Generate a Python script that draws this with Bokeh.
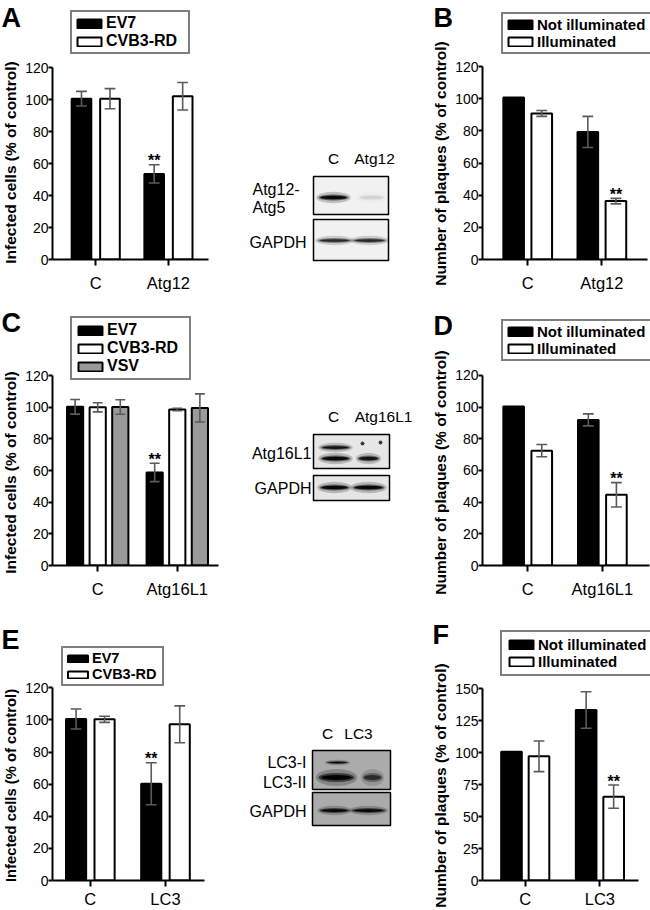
import math
from bokeh.plotting import figure
from bokeh.models import Range1d, FixedTicker, Legend, LegendItem, Label
from bokeh.layouts import row, column
from bokeh.embed import file_html
from bokeh.resources import INLINE
from bokeh.core.properties import value

FONT = "Liberation Sans"

# ------------------------------------------------------------------ data
a_categories = ["C", "Atg12"]
a_ev7 = [100.5, 53.5]
a_ev7_err = [4.6, 5.7]
a_cvb3 = [100.5, 102.0]
a_cvb3_err = [6.3, 8.6]

b_categories = ["C", "Atg12"]
b_not_illuminated = [100.8, 79.3]
b_not_illuminated_err = [0.0, 9.7]
b_illuminated = [90.8, 36.3]
b_illuminated_err = [1.8, 1.7]

c_categories = ["C", "Atg16L1"]
c_ev7 = [100.3, 58.8]
c_ev7_err = [4.6, 5.8]
c_cvb3 = [100.0, 98.6]
c_cvb3_err = [2.9, 0.8]
c_vsv = [100.2, 99.6]
c_vsv_err = [4.6, 8.9]

d_categories = ["C", "Atg16L1"]
d_not_illuminated = [100.3, 91.9]
d_not_illuminated_err = [0.0, 3.8]
d_illuminated = [72.5, 44.6]
d_illuminated_err = [3.9, 7.7]

e_categories = ["C", "LC3"]
e_ev7 = [100.6, 60.3]
e_ev7_err = [6.2, 13.1]
e_cvb3 = [100.4, 97.3]
e_cvb3_err = [1.9, 11.5]

f_categories = ["C", "LC3"]
f_not_illuminated = [100.8, 133.5]
f_not_illuminated_err = [0.0, 14.3]
f_illuminated = [97.2, 65.6]
f_illuminated_err = [12.0, 9.1]

y_ticks_120 = [0, 20, 40, 60, 80, 100, 120]
y_ticks_150 = [0, 25, 50, 75, 100, 125, 150]

infected_title = "Infected cells (% of control)"
plaques_title = "Number of plaques (% of control)"

# western blots: lane names, band intensities (0..1) per lane
blot_a_lanes = ["C", "Atg12"]
blot_a_atg12_atg5 = [0.95, 0.07]
blot_a_gapdh = [0.7, 0.7]

blot_c_lanes = ["C", "Atg16L1"]
blot_c_atg16l1_upper = [0.85, 0.0]
blot_c_atg16l1_lower = [0.95, 0.85]
blot_c_gapdh = [0.95, 0.95]

blot_e_lanes = ["C", "LC3"]
blot_e_lc3_i = [0.9, 0.0]
blot_e_lc3_ii = [1.0, 0.6]
blot_e_gapdh = [0.95, 0.95]

BLACK = "#000000"
WHITE = "#ffffff"
GREY = "#9a9a9a"
ERR = "#5a5a5a"


# ------------------------------------------------------------------ helpers
def pixel_figure(box):
    """Figure whose data units are page pixels; y is stored as -page_y."""
    ox, oy, W, H = box
    p = figure(width=W, height=H, x_range=Range1d(ox, ox + W), y_range=Range1d(-(oy + H), -oy),
               output_backend="svg", toolbar_location=None, frame_align=False,
               min_border_left=0, min_border_right=0, min_border_top=0, min_border_bottom=0,
               x_axis_location=None, y_axis_location=None)
    p.grid.visible = False
    p.outline_line_color = None
    return p


def side_panel(box, letter, letter_pos, title, title_pos, title_size):
    p = pixel_figure(box)
    p.add_layout(Label(x=letter_pos[0], y=-letter_pos[1], text=letter, text_font=FONT,
                       text_font_size="27px", text_font_style="bold", text_align="left",
                       text_baseline="alphabetic", text_color=BLACK))
    p.add_layout(Label(x=title_pos[0], y=-title_pos[1], text=title, text_font=FONT,
                       text_font_size=title_size, text_font_style="bold", text_align="center",
                       text_baseline="middle", angle=math.pi / 2, text_color=BLACK))
    return p


def bar_panel(geo, categories, series, stars, y_ticks, lg):
    ox, oy, W, H = geo["box"]
    fx0 = geo["frame_left"]
    fy1 = geo["axis_y"]
    fx1 = ox + W
    fy0 = oy
    ymax = y_ticks[-1]
    ppu_y = (fy1 - geo["top_tick_y"]) / ymax
    y_end = (fy1 - fy0) / ppu_y
    c0, c1 = geo["cat_x"]
    ux = c1 - c0
    xs = 1 - (c0 - fx0) / ux
    xe = 2 + (fx1 - c1) / ux
    p = figure(width=W, height=H, x_range=Range1d(xs, xe), y_range=Range1d(0, y_end),
               output_backend="svg", toolbar_location=None, frame_align=False,
               min_border_left=fx0 - ox, min_border_right=0, min_border_top=0,
               min_border_bottom=oy + H - fy1)
    p.outline_line_color = None
    p.grid.visible = False

    renderers = []
    for k, (name, vals, errs, color) in enumerate(series):
        off = geo["offsets"][k] / ux
        x = [i + 1 + off for i in range(len(categories))]
        r = p.vbar(x=x, top=vals, bottom=0, width=geo["bar_w"] / ux,
                   fill_color=color, line_color=BLACK, line_width=2)
        renderers.append(r)

    cap = geo["cap_w"] / ux
    for k, (name, vals, errs, color) in enumerate(series):
        off = geo["offsets"][k] / ux
        ex = [i + 1 + off for i, e in enumerate(errs) if e > 0]
        lo = [v - e for v, e in zip(vals, errs) if e > 0]
        hi = [v + e for v, e in zip(vals, errs) if e > 0]
        if not ex:
            continue
        p.segment(x0=ex, y0=lo, x1=ex, y1=hi, line_color=ERR, line_width=1.6)
        p.segment(x0=[x - cap / 2 for x in ex], y0=hi, x1=[x + cap / 2 for x in ex], y1=hi,
                  line_color=ERR, line_width=1.6)
        p.segment(x0=[x - cap / 2 for x in ex], y0=lo, x1=[x + cap / 2 for x in ex], y1=lo,
                  line_color=ERR, line_width=1.6)

    sx, sy = [], []
    for (k, i) in stars:
        vals, errs = series[k][1], series[k][2]
        sx.append(i + 1 + geo["offsets"][k] / ux)
        sy.append(vals[i] + errs[i])
    p.text(x=sx, y=sy, text=["**"] * len(sx), text_font=value(FONT), text_font_size="16px",
           text_font_style="bold", text_align="center", text_baseline="alphabetic",
           text_color=BLACK, y_offset=-4)

    ya = p.yaxis[0]
    ya.ticker = FixedTicker(ticks=y_ticks)
    ya.bounds = (0, ymax)
    ya.axis_line_width = 2
    ya.axis_line_color = BLACK
    ya.major_tick_line_width = 2
    ya.major_tick_line_color = BLACK
    ya.major_tick_out = 4
    ya.major_tick_in = 0
    ya.minor_tick_out = 0
    ya.minor_tick_in = 0
    ya.major_label_standoff = 0
    ya.major_label_text_font = FONT
    ya.major_label_text_font_size = "14px"
    ya.major_label_text_color = BLACK

    xa = p.xaxis[0]
    xa.ticker = FixedTicker(ticks=[1, 2])
    xa.major_label_overrides = {1: categories[0], 2: categories[1]}
    xa.bounds = (xs, 1 + (geo["axis_end"] - c0) / ux)
    xa.axis_line_width = 2
    xa.axis_line_color = BLACK
    xa.major_tick_line_width = 2
    xa.major_tick_line_color = BLACK
    xa.major_tick_out = 6
    xa.major_tick_in = 0
    xa.minor_tick_out = 0
    xa.minor_tick_in = 0
    xa.major_label_standoff = geo["xlab_standoff"]
    xa.major_label_text_font = FONT
    xa.major_label_text_font_size = "16.5px"
    xa.major_label_text_color = BLACK

    pad = lg["pad"]
    label_w = (lg["x1"] - lg["x0"]) - 2 * pad - lg["gw"] - 2
    legend = Legend(items=[LegendItem(label=s[0], renderers=[r]) for s, r in zip(series, renderers)],
                    location=(lg["x0"] - fx0, fy1 - lg["y1"]),
                    orientation="vertical", padding=pad, spacing=lg["sp"], margin=0,
                    glyph_width=lg["gw"], glyph_height=lg["gh"], label_height=lg["lh"],
                    label_width=label_w, label_standoff=2,
                    label_text_font=FONT, label_text_font_size=lg["fs"],
                    label_text_font_style="bold", label_text_color=BLACK,
                    border_line_color=BLACK, border_line_width=2,
                    background_fill_color=WHITE, background_fill_alpha=1.0)
    p.add_layout(legend)
    return p


def draw_band(p, xs, y, ws, h, intens):
    for sw, sh, a in [(1.15, 1.9, 0.22), (1.0, 1.0, 0.55), (0.85, 0.55, 0.95)]:
        p.ellipse(x=xs, y=[-y] * len(xs), width=[w * sw for w in ws], height=h * sh,
                  fill_color=BLACK, fill_alpha=[min(1.0, i * a) for i in intens], line_color=None)


def blot_panel(box, fill, boxes, lane_labels, row_labels, bands, dots=None):
    p = pixel_figure(box)
    p.quad(left=[b[0] for b in boxes], right=[b[1] for b in boxes],
           top=[-b[2] for b in boxes], bottom=[-b[3] for b in boxes],
           fill_color=fill, line_color=BLACK, line_width=1.5)
    for (xs, y, ws, h, intens) in bands:
        draw_band(p, xs, y, ws, h, intens)
    if dots:
        p.scatter(x=dots[0], y=[-d for d in dots[1]], size=3, color="#333333")
    p.text(x=[l[1] for l in lane_labels], y=[-l[2] for l in lane_labels],
           text=[l[0] for l in lane_labels], text_font=value(FONT), text_font_size="15.5px",
           text_align="center", text_baseline="middle", text_color=BLACK)
    for (t, x, y, al) in row_labels:
        p.text(x=[x], y=[-y], text=[t], text_font=value(FONT), text_font_size="16px",
               text_align=al, text_baseline="middle", text_color=BLACK)
    return p


# ------------------------------------------------------------------ panels
sA = side_panel((0, 0, 22, 300), "A", (1, 17), infected_title, (10, 162), "15.5px")
pA = bar_panel(
    dict(box=(22, 0, 198, 300), frame_left=49, axis_y=259, top_tick_y=67, cat_x=(93, 167),
         offsets=(-14.5, 14.5), bar_w=20, cap_w=11, axis_end=208, xlab_standoff=8),
    a_categories,
    [("EV7", a_ev7, a_ev7_err, BLACK), ("CVB3-RD", a_cvb3, a_cvb3_err, WHITE)],
    [(0, 1)], y_ticks_120,
    dict(x0=67, x1=183, y1=54, pad=2, sp=-5, gw=30, gh=11, lh=16, fs="16px"))

sB = side_panel((418, 0, 34, 300), "B", (433, 17), plaques_title, (440, 163), "15.5px")
pB = bar_panel(
    dict(box=(452, 0, 198, 300), frame_left=479, axis_y=259, top_tick_y=66, cat_x=(525, 600.5),
         offsets=(-14.3, 14.3), bar_w=21, cap_w=11, axis_end=647, xlab_standoff=8),
    b_categories,
    [("Not illuminated", b_not_illuminated, b_not_illuminated_err, BLACK),
     ("Illuminated", b_illuminated, b_illuminated_err, WHITE)],
    [(1, 1)], y_ticks_120,
    dict(x0=498, x1=647, y1=54, pad=2, sp=-4, gw=30, gh=11, lh=16, fs="15px"))

sC = side_panel((0, 300, 22, 300), "C", (1, 322), infected_title, (10, 472), "15.5px")
pC = bar_panel(
    dict(box=(22, 300, 198, 300), frame_left=49, axis_y=568, top_tick_y=376, cat_x=(95, 176),
         offsets=(-23, 0, 23), bar_w=16.5, cap_w=10, axis_end=218, xlab_standoff=8),
    c_categories,
    [("EV7", c_ev7, c_ev7_err, BLACK), ("CVB3-RD", c_cvb3, c_cvb3_err, WHITE),
     ("VSV", c_vsv, c_vsv_err, GREY)],
    [(0, 1)], y_ticks_120,
    dict(x0=67, x1=184, y1=383, pad=3, sp=-3, gw=30, gh=11, lh=16, fs="16px"))

sD = side_panel((418, 300, 34, 300), "D", (433, 325), plaques_title, (440, 472), "15.5px")
pD = bar_panel(
    dict(box=(452, 300, 198, 300), frame_left=479, axis_y=569, top_tick_y=376, cat_x=(525, 601),
         offsets=(-14.3, 14.3), bar_w=21, cap_w=11, axis_end=649, xlab_standoff=8),
    d_categories,
    [("Not illuminated", d_not_illuminated, d_not_illuminated_err, BLACK),
     ("Illuminated", d_illuminated, d_illuminated_err, WHITE)],
    [(1, 1)], y_ticks_120,
    dict(x0=498, x1=648, y1=365, pad=2, sp=-4, gw=30, gh=11, lh=16, fs="15px"))

sE = side_panel((0, 600, 22, 310), "E", (1, 639), infected_title, (10, 785), "14.8px")
pE = bar_panel(
    dict(box=(22, 600, 198, 310), frame_left=49, axis_y=882, top_tick_y=688, cat_x=(87.5, 164),
         offsets=(-14.5, 14.5), bar_w=20.5, cap_w=11, axis_end=204, xlab_standoff=3),
    e_categories,
    [("EV7", e_ev7, e_ev7_err, BLACK), ("CVB3-RD", e_cvb3, e_cvb3_err, WHITE)],
    [(0, 1)], y_ticks_120,
    dict(x0=58, x1=157, y1=688, pad=2, sp=-2, gw=25, gh=9, lh=14, fs="14.5px"))

sF = side_panel((418, 600, 34, 310), "F", (432, 634), plaques_title, (440, 785), "15.5px")
pF = bar_panel(
    dict(box=(452, 600, 198, 310), frame_left=479, axis_y=882, top_tick_y=689, cat_x=(522.5, 598.5),
         offsets=(-14, 14), bar_w=21, cap_w=11, axis_end=638, xlab_standoff=3),
    f_categories,
    [("Not illuminated", f_not_illuminated, f_not_illuminated_err, BLACK),
     ("Illuminated", f_illuminated, f_illuminated_err, WHITE)],
    [(1, 1)], y_ticks_150,
    dict(x0=497, x1=645, y1=678, pad=4, sp=-4, gw=30, gh=11, lh=14, fs="15px"))

blotA = blot_panel(
    (220, 0, 198, 300), "#f1f1f1",
    [(313, 388, 176, 214), (313, 388, 219, 260)],
    [(blot_a_lanes[0], 333, 158), (blot_a_lanes[1], 374, 158)],
    [("Atg12-", 252, 189, "left"), ("Atg5", 252, 207, "left"), ("GAPDH", 306, 242, "right")],
    [([333, 371], 197, [30, 26], 6, blot_a_atg12_atg5),
     ([334, 369], 240, [34, 34], 5, blot_a_gapdh)])

blotC = blot_panel(
    (220, 300, 198, 300), "#e6e6e6",
    [(313, 389, 434, 468), (313, 389, 475, 500)],
    [(blot_c_lanes[0], 333, 416), (blot_c_lanes[1], 383, 416)],
    [("Atg16L1", 311, 453, "right"), ("GAPDH", 311, 488, "right")],
    [([335, 368], 447, [30, 22], 5, blot_c_atg16l1_upper),
     ([335, 368], 458, [30, 22], 6, blot_c_atg16l1_lower),
     ([334, 368], 487, [30, 32], 6, blot_c_gapdh)],
    dots=([362, 380], [443, 442]))

blotE = blot_panel(
    (220, 600, 198, 310), "#ababab",
    [(312, 390, 750, 789), (312, 390, 792, 825)],
    [(blot_e_lanes[0], 327, 733), (blot_e_lanes[1], 358, 733)],
    [("LC3-I", 306, 762, "right"), ("LC3-II", 306, 782, "right"), ("GAPDH", 306, 811, "right")],
    [([337, 372], 762, [22, 20], 3, blot_e_lc3_i),
     ([336, 372], 777, [36, 20], 9, blot_e_lc3_ii),
     ([334, 368], 810, [30, 34], 5, blot_e_gapdh)])

layout = column(row(sA, pA, blotA, sB, pB),
                row(sC, pC, blotC, sD, pD),
                row(sE, pE, blotE, sF, pF))

open("out.html", "w").write(file_html(layout, INLINE))
